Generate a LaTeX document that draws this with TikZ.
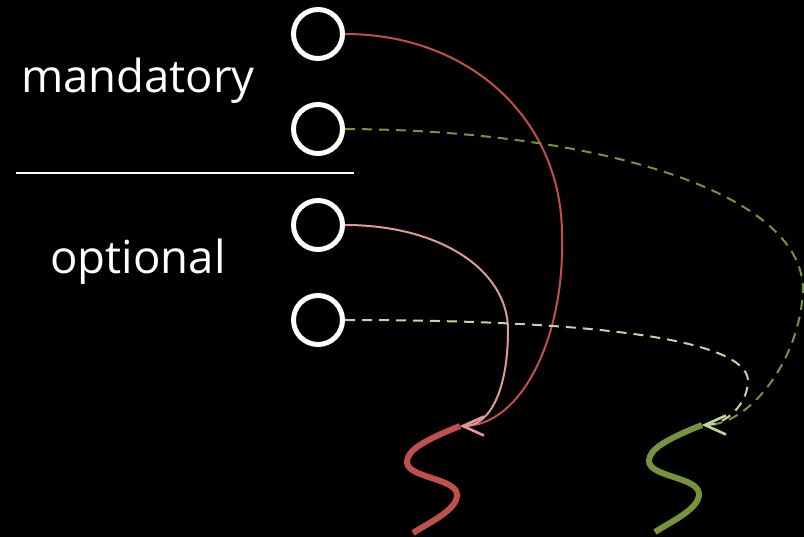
\documentclass[tikz,border=0pt]{standalone}
\usepackage{fontspec}
\setmainfont{Open Sans}
\usetikzlibrary{arrows.meta}
\definecolor{mandred}{HTML}{C0504D}
\definecolor{optred}{HTML}{DE9A98}
\definecolor{mandgreen}{HTML}{77933C}
\definecolor{optgreen}{HTML}{C3D69B}
\tikzset{
  port/.style={circle, draw=white, line width=5pt, minimum size=49pt, inner sep=0pt},
  label/.style={text=white, font=\fontsize{45.5}{52}\selectfont, anchor=base},
  link/.style={line width=2pt, -{Straight Barb[length=21pt,width=19pt,line width=2.4pt]}},
  dashedlink/.style={link, dash pattern=on 10pt off 7pt},
  squiggle/.style={line width=6pt, line cap=butt}
}
\begin{document}
\begin{tikzpicture}[x=1pt, y=-1pt]
  % canvas
  \fill[black] (0,0) rectangle (804,537);
  \useasboundingbox (0,0) rectangle (804,537);

  % labels and divider
  \node[label] (mand) at (138,93) {mandatory};
  \node[label] (opt) at (138,274) {optional};
  \coordinate (divL) at (16,173);
  \coordinate (divR) at (354,173);
  \draw[white, line width=2pt] (divL) -- (divR);

  % ports
  \node[port] (c1) at (318,34) {};
  \node[port] (c2) at (318,129) {};
  \node[port] (c3) at (318,225) {};
  \node[port] (c4) at (318,320) {};

  % targets
  \coordinate (rtop) at (460,426);
  \coordinate (gtop) at (702,425);

  \draw[squiggle, mandred] (rtop) .. controls (425,440) and (407,450) .. (407,462)
     .. controls (407,478) and (457,478) .. (457,495)
     .. controls (457,510) and (430,522) .. (413,533);
  \draw[squiggle, mandgreen] (gtop) .. controls (667,439) and (649,449) .. (649,461)
     .. controls (649,477) and (699,477) .. (699,494)
     .. controls (699,509) and (672,521) .. (655,532);

  % connectors
  \draw[link, mandred] (c1.east) .. controls (470,34) and (562,120) .. (562,235)
     .. controls (565,340) and (520,426) .. (rtop);
  \draw[link, optred] (c3.east) .. controls (440,225) and (508,270) .. (508,330)
     .. controls (508,390) and (490,426) .. (rtop);
  \draw[dashedlink, mandgreen] (c2.east) .. controls (590,130) and (803,190) .. (803,290)
     .. controls (800,360) and (750,425) .. (gtop);
  \draw[dashedlink, optgreen] (c4.east) .. controls (600,320) and (745,340) .. (748,380)
     .. controls (748,405) and (725,425) .. (gtop);
\end{tikzpicture}
\end{document}
